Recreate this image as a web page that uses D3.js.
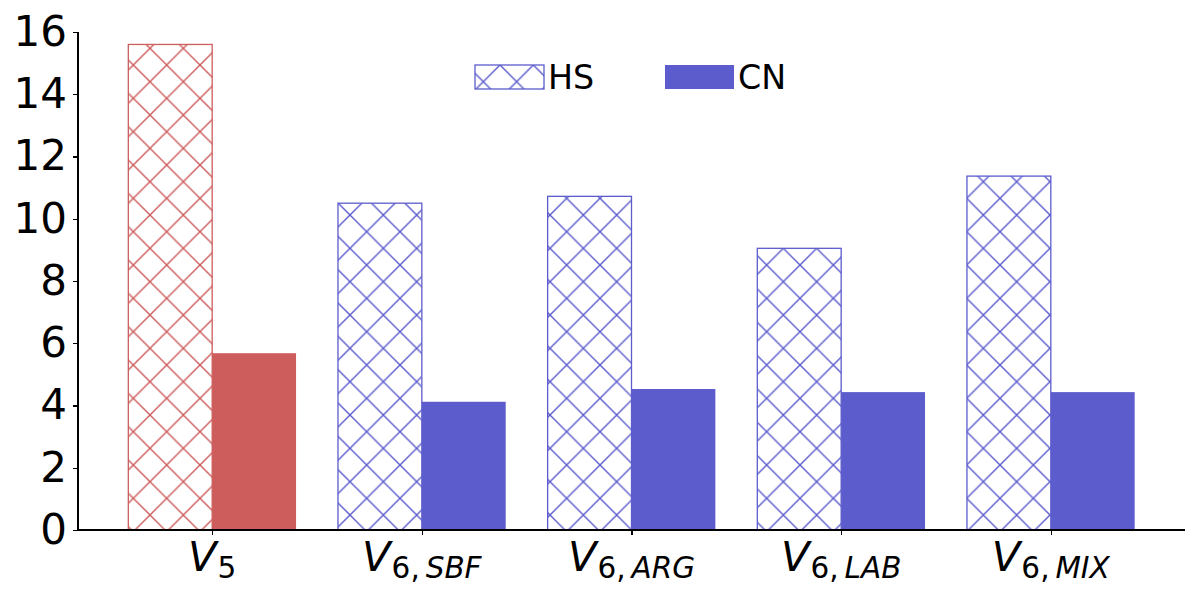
<!DOCTYPE html>
<html>
<head>
<meta charset="utf-8">
<script src="https://cdn.jsdelivr.net/npm/d3@7"></script>
<style>
  body { margin: 0; background: #fff; }
  svg text { font-family: "DejaVu Sans", sans-serif; }
</style>
</head>
<body>
<div id="canvas"></div>
<script>
// data
var subNums = ["5", "6", "6", "6", "6"];
var subTags = ["", "SBF", "ARG", "LAB", "MIX"];
var hsValues = [15.6, 10.5, 10.72, 9.05, 11.37];
var cnValues = [5.68, 4.12, 4.53, 4.43, 4.43];
var barColors = ["#cd5c5c", "#5c5ccd", "#5c5ccd", "#5c5ccd", "#5c5ccd"];
var yTicks = [0, 2, 4, 6, 8, 10, 12, 14, 16];
var legendLabels = ["HS", "CN"];

var width = 1200,
    height = 600,
    mLeft = 78,
    mRight = 1185,
    mTop = 32,
    mBottom = 530,
    barWidth = 0.4;

var svg = d3.select("#canvas")
    .append("svg")
    .attr("width", width)
    .attr("height", height);

var x = d3.scaleLinear().domain([-0.64, 4.64]).range([mLeft, mRight]);
var y = d3.scaleLinear().domain([0, 16]).range([mBottom, mTop]);

// hatch patterns, anchored to the page like matplotlib's
var defs = svg.append("defs");
var hw = 100 / 3;
["#cd5c5c", "#5c5ccd"].forEach(function(c, i) {
    var p = defs.append("pattern")
        .attr("id", "hatch" + i)
        .attr("patternUnits", "userSpaceOnUse")
        .attr("x", 0)
        .attr("y", -1.67)
        .attr("width", hw)
        .attr("height", hw);
    p.append("path")
        .attr("d", "M-2,-2L" + (hw + 2) + "," + (hw + 2) + "M-2," + (hw + 2) + "L" + (hw + 2) + ",-2")
        .style("stroke", c)
        .style("stroke-width", 1.4)
        .style("fill", "none");
});
function hatchId(c) { return c === "#cd5c5c" ? "url(#hatch0)" : "url(#hatch1)"; }

var idx = d3.range(hsValues.length);

// HS bars (hatched)
svg.selectAll("rect.hs")
    .data(idx)
    .enter()
    .append("rect")
    .attr("class", "hs")
    .attr("x", function(i) { return x(i - barWidth); })
    .attr("y", function(i) { return y(hsValues[i]); })
    .attr("width", function(i) { return x(i) - x(i - barWidth); })
    .attr("height", function(i) { return y(0) - y(hsValues[i]); })
    .style("fill", function(i) { return hatchId(barColors[i]); })
    .style("stroke", function(i) { return barColors[i]; })
    .style("stroke-width", 1.3);

// CN bars (solid)
svg.selectAll("rect.cn")
    .data(idx)
    .enter()
    .append("rect")
    .attr("class", "cn")
    .attr("x", function(i) { return x(i); })
    .attr("y", function(i) { return y(cnValues[i]); })
    .attr("width", function(i) { return x(i + barWidth) - x(i); })
    .attr("height", function(i) { return y(0) - y(cnValues[i]); })
    .style("fill", function(i) { return barColors[i]; });

// y axis
var yAxis = svg.append("g")
    .attr("transform", "translate(" + mLeft + ",0)")
    .call(d3.axisLeft(y).tickValues(yTicks).tickSize(5).tickPadding(6).tickSizeOuter(0));
yAxis.selectAll("text")
    .style("font-size", "42px")
    .style("fill", "#000");
yAxis.select(".domain").attr("d", "M0," + (mTop - 0.5) + "V" + mBottom);
yAxis.selectAll("path, line").style("stroke", "#000").style("stroke-width", 1.2).style("shape-rendering", "crispEdges");

// x axis
var xAxis = svg.append("g")
    .attr("transform", "translate(0," + mBottom + ")")
    .call(d3.axisBottom(x).tickValues(idx).tickSize(5).tickSizeOuter(0).tickFormat(""));
xAxis.select(".domain").attr("d", "M" + mLeft + ",0H" + mRight);
xAxis.selectAll("path, line").style("stroke", "#000").style("stroke-width", 1.2).style("shape-rendering", "crispEdges");

// math-style tick labels  V_{n,TAG}
var labels = svg.selectAll("text.xl")
    .data(idx)
    .enter()
    .append("text")
    .attr("class", "xl")
    .attr("x", function(i) { return x(i); })
    .attr("y", 571)
    .attr("text-anchor", "middle")
    .style("fill", "#000");
labels.append("tspan")
    .style("font-size", "41.7px")
    .style("font-style", "italic")
    .text("V");
labels.append("tspan")
    .attr("dy", 7)
    .attr("dx", 1)
    .style("font-size", "29.5px")
    .text(function(i) { return subNums[i] + (subTags[i] ? ",\u2009" : ""); });
labels.append("tspan")
    .style("font-size", "29.5px")
    .style("font-style", "italic")
    .text(function(i) { return subTags[i]; });

// legend
var lg = svg.append("g");
var lx = [475, 665];
lg.selectAll("rect")
    .data(legendLabels)
    .enter()
    .append("rect")
    .attr("x", function(d, i) { return lx[i]; })
    .attr("y", 65)
    .attr("width", 69)
    .attr("height", 24)
    .style("fill", function(d, i) { return i === 0 ? "url(#hatch1)" : "#5c5ccd"; })
    .style("stroke", function(d, i) { return i === 0 ? "#5c5ccd" : "none"; })
    .style("stroke-width", 1.3);
lg.selectAll("text")
    .data(legendLabels)
    .enter()
    .append("text")
    .attr("x", function(d, i) { return lx[i] + 73; })
    .attr("y", 89)
    .style("font-size", "33.3px")
    .style("fill", "#000")
    .text(function(d) { return d; });
</script>
</body>
</html>
